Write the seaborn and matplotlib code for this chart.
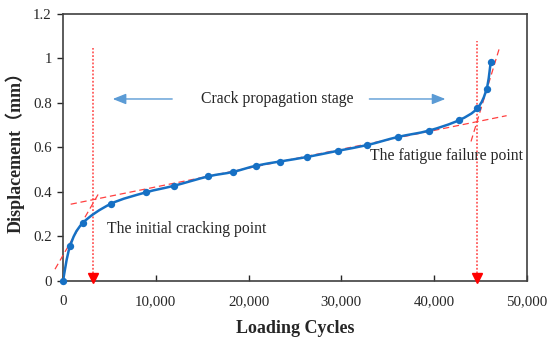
import numpy as np
import matplotlib
matplotlib.use('Agg')
import matplotlib.pyplot as plt
from matplotlib.path import Path
from matplotlib.patches import PathPatch
import seaborn as sns

# data
cycles = [0, 750, 2120, 5170, 8910, 11960, 15660, 18290, 20800, 23380,
          26260, 29600, 32790, 36060, 39440, 42640, 44650, 45650, 46090]
displacement = [0, 0.155, 0.26, 0.347, 0.398, 0.428, 0.47, 0.49, 0.518, 0.537,
                0.557, 0.585, 0.611, 0.647, 0.676, 0.722, 0.776, 0.863, 0.982]

# tangent lines (start/end points) and the two marked points
tangent_initial = ([-860, 3800], [0.053, 0.39])
tangent_stable = ([830, 47810], [0.345, 0.743])
tangent_final = ([43970, 47090], [0.627, 1.055])
crack_x = [3270, 44580]
crack_top = [1.048, 1.078]

xticks = [0, 10000, 20000, 30000, 40000, 50000]
yticks = [0, 0.2, 0.4, 0.6, 0.8, 1.0, 1.2]
ytick_labels = ['0', '0.2', '0.4', '0.6', '0.8', '1', '1.2']

sns.set_style('white')
plt.rcParams['font.family'] = ['Liberation Serif', 'Noto Sans CJK SC']

fig = plt.figure(figsize=(5.5, 3.43), dpi=100)
ax = fig.add_axes([0.1145, 0.1808, 0.8436, 0.7784])

blue = '#1670C4'
red = '#FF4040'

# smooth (Excel-like) curve through the points: Catmull-Rom as cubic Bezier
pts = np.column_stack([cycles, displacement])
ext = np.vstack([pts[0], pts, pts[-1]])
verts = [pts[0]]
codes = [Path.MOVETO]
for i in range(1, len(ext) - 2):
    c1 = ext[i] + (ext[i + 1] - ext[i - 1]) / 6
    c2 = ext[i + 1] - (ext[i + 2] - ext[i]) / 6
    verts += [c1, c2, ext[i + 1]]
    codes += [Path.CURVE4] * 3
ax.add_patch(PathPatch(Path(verts, codes), facecolor='none', edgecolor=blue,
                       lw=1.8, zorder=4))
sns.scatterplot(x=cycles, y=displacement, ax=ax, color=blue, s=28,
                edgecolor=blue, linewidth=0, zorder=5, clip_on=False)

# dashed tangent lines
for tx, ty in [tangent_initial, tangent_stable, tangent_final]:
    ax.plot(tx, ty, color=red, lw=0.9, ls=(0, (5, 3)), zorder=3, clip_on=False)

# dotted verticals with triangle at the bottom
for cx, ct in zip(crack_x, crack_top):
    ax.plot([cx, cx], [0.02, ct], color=red, lw=1.1, ls=(0, (1.2, 1.2)), zorder=3)
    ax.plot(cx, 0.012, marker='v', color='#FF0000', ms=6.5, zorder=6, clip_on=False)

# arrows and texts
arrow_kw = dict(arrowstyle='-|>,head_length=0.8,head_width=0.32', color='#5B9BD5', lw=1.0)
ax.annotate('', xy=(5060, 0.818), xytext=(12070, 0.818), arrowprops=arrow_kw)
ax.annotate('', xy=(41510, 0.818), xytext=(32720, 0.818), arrowprops=arrow_kw)
ax.text(23060, 0.818, 'Crack propagation stage', fontsize=11.3, ha='center', va='center')
ax.text(4710, 0.233, 'The initial cracking point', fontsize=11.3, ha='left', va='center')
ax.text(33080, 0.56, 'The fatigue failure point', fontsize=11.3, ha='left', va='center')

ax.set_xlim(0, 50000)
ax.set_ylim(0, 1.2)
ax.set_xticks(xticks)
ax.set_xticklabels([f'{v:,}' for v in xticks])
ax.set_yticks(yticks)
ax.set_yticklabels(ytick_labels)
ax.tick_params(axis='x', direction='in', length=4, width=1, labelsize=10.7, pad=10)
ax.tick_params(axis='y', direction='out', length=4, width=1, labelsize=10.7, pad=4)
ax.tick_params(bottom=True, left=True)
for s in ax.spines.values():
    s.set_color('#404040')
    s.set_linewidth(1.2)

ax.set_xlabel('Loading Cycles', fontsize=13, fontweight='bold', labelpad=9)
ax.set_ylabel('Displacement（mm）', fontsize=13, fontweight='bold', labelpad=6)

fig.savefig('out.png', dpi=100)
